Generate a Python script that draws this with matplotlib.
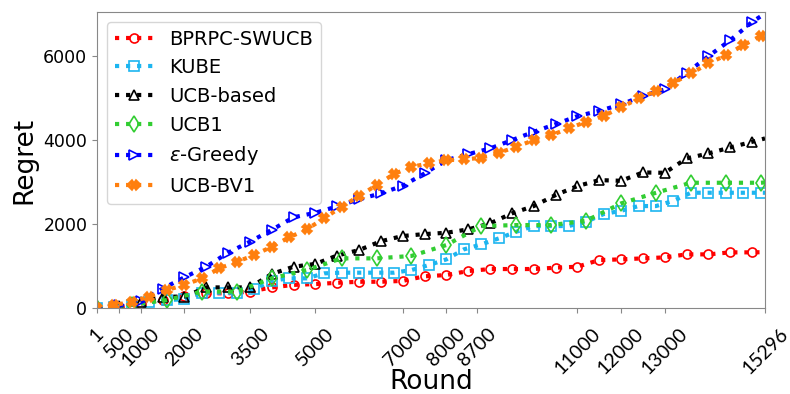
import matplotlib
matplotlib.use("Agg")
from matplotlib import pyplot as plt

end_round = 15296

# rounds sampled every 500 / 400 / 800 steps, plus the final round
rounds_500 = [1] + list(range(500, 15001, 500)) + [end_round]
rounds_400 = [1] + list(range(400, 15201, 400)) + [end_round]
rounds_800 = [1] + list(range(800, 15201, 800)) + [end_round]

bprpc_swucb = [0, 30, 100, 200, 290, 350, 350, 390, 490, 550, 570, 600, 625, 625, 645,
               755, 785, 880, 928, 928, 928, 960, 983, 1142, 1158, 1182, 1206, 1277,
               1277, 1325, 1325, 1330]

kube = [0, 30, 80, 150, 190, 206, 364, 364, 364, 445, 650, 706, 706, 825, 841, 841, 841,
        841, 904, 1023, 1158, 1396, 1515, 1658, 1816, 1952, 1952, 1952, 2054, 2237, 2316,
        2428, 2428, 2554, 2745, 2745, 2745, 2745, 2745, 2745]

ucb_based = [0, 50, 140, 270, 270, 490, 490, 490, 810, 983, 1050, 1250, 1380, 1590, 1715,
             1760, 1792, 1872, 2015, 2253, 2428, 2690, 2904, 3046, 3030, 3229, 3220, 3562,
             3681, 3824, 3958, 4039]

ucb1 = [0, 80, 190, 390, 390, 706, 904, 1182, 1182, 1240, 1500, 1952, 1975, 1975, 2078,
        2491, 2745, 2983, 2983, 2983, 2990]

eps_greedy = [0, 60, 170, 460, 730, 983, 1316, 1578, 1860, 2160, 2268, 2420, 2590, 2730,
              2910, 3205, 3522, 3665, 3800, 3998, 4196, 4379, 4570, 4696, 4848, 5053, 5205,
              5600, 5998, 6378, 6814, 7014]

ucb_bv1 = [0, 70, 150, 270, 428, 547, 706, 944, 1100, 1260, 1460, 1682, 1872, 2136, 2411,
           2666, 2927, 3190, 3363, 3443, 3522, 3538, 3578, 3697, 3840, 3998, 4117, 4276,
           4435, 4578, 4776, 4991, 5165, 5364, 5586, 5824, 6021, 6260, 6482, 6510]

xtick_values = [1, 500, 1000, 2000, 3500, 5000, 7000, 8000, 8700, 11000, 12000, 13000, 15296]

series = [
    ("BPRPC-SWUCB", rounds_500, bprpc_swucb, "red", "o", "none", 6.5),
    ("KUBE", rounds_400, kube, "#1cb5f0", "s", "none", 6.5),
    ("UCB-based", rounds_500, ucb_based, "black", "^", "none", 7),
    ("UCB1", rounds_800, ucb1, "limegreen", "d", "none", 8),
    (r"$\epsilon$-Greedy", rounds_500, eps_greedy, "blue", ">", "none", 7),
    ("UCB-BV1", rounds_400, ucb_bv1, "#ff7f0e", "X", "#ff7f0e", 7),
]

fig = plt.figure(figsize=(7.9, 3.94), dpi=100)
ax = fig.add_axes([0.1228, 0.2183, 0.8456, 0.7512])

for label, xs, ys, color, marker, face, msize in series:
    ax.plot(xs, ys, linestyle=":", linewidth=3, color=color, marker=marker,
            markersize=msize, markerfacecolor=face, markeredgewidth=1.2,
            markevery=slice(0, len(xs) - 1), label=label)

ax.set_xlim(0, end_round)
ax.set_ylim(0, 7050)
ax.set_xticks(xtick_values)
ax.set_xticklabels([str(v) for v in xtick_values], rotation=45, fontsize=14, family="Lato")
ax.set_yticks([0, 2000, 4000, 6000])
ax.tick_params(axis="x", pad=9)
ax.tick_params(axis="y", labelsize=12.5)
ax.tick_params(colors="#888888", labelcolor="black")
for s in ax.spines.values():
    s.set_color("#888888")

ax.set_xlabel("Round", fontsize=19, labelpad=-6)
ax.set_ylabel("Regret", fontsize=19)
ax.legend(loc="upper left", fontsize=14, handlelength=2)

plt.savefig("out.png", dpi=100)
